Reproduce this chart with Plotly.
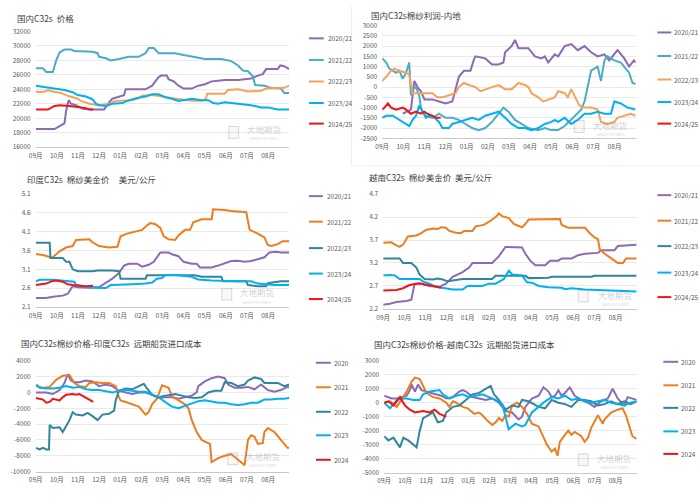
import plotly.graph_objects as go

W, H = 700, 503
FONT = "Noto Sans CJK SC"

MONTHS = ["09月", "10月", "11月", "12月", "01月", "02月", "03月", "04月", "05月", "06月", "07月", "08月"]
SEASONS = ["2020/21", "2021/22", "2022/23", "2023/24", "2024/25"]
YEARS = ["2020", "2021", "2022", "2023", "2024"]

# ---------------- Panel 1: 国内C32s 价格 (month index, value) ----------------
p1_2020 = [(0, 18500), (0.89, 18500), (1.13, 18900), (1.36, 19300), (1.44, 21000), (1.56, 22500), (1.67, 22000),
           (1.91, 21800), (2.22, 21300), (2.69, 21200), (3.24, 21200), (3.47, 22200), (3.63, 22700), (3.94, 23000),
           (4.18, 23200), (4.26, 24000), (4.88, 24000), (5.2, 24000), (5.51, 24500), (5.82, 25700), (5.95, 25900),
           (6.21, 25900), (6.29, 25400), (6.53, 25100), (6.76, 24500), (7.0, 24100), (7.39, 24100), (7.7, 24500),
           (8.01, 24700), (8.33, 25100), (8.64, 25200), (8.95, 25300), (9.58, 25300), (10.2, 25500), (10.52, 25900),
           (10.75, 26100), (10.91, 26800), (11.46, 26800), (11.58, 27300), (11.77, 27200), (12, 26800)]
p1_2021 = [(0, 26900), (0.34, 26900), (0.5, 26400), (0.81, 26400), (0.97, 28000), (1.13, 29100), (1.36, 29500),
           (1.67, 29500), (1.83, 29300), (2.69, 29200), (2.93, 29000), (3.0, 28500), (3.32, 28300), (3.55, 28000),
           (3.94, 28200), (4.26, 28400), (4.41, 28500), (4.88, 28500), (5.2, 29000), (5.35, 29700), (5.59, 29700),
           (5.82, 29000), (6.6, 29000), (7.07, 28700), (7.39, 28500), (8.01, 28200), (8.79, 28200), (9.26, 27900),
           (9.58, 27300), (9.81, 26600), (10.05, 26500), (10.28, 25800), (10.39, 24600), (10.83, 24500),
           (11.14, 24200), (11.61, 24100), (11.77, 23500), (12, 23500)]
p1_2022 = [(0, 23700), (0.19, 23600), (0.42, 23700), (0.58, 23900), (0.81, 23700), (1.2, 23500), (1.52, 23100),
           (1.75, 22900), (1.99, 22700), (2.14, 22400), (2.54, 22000), (3.0, 21800), (3.47, 22000), (3.79, 22400),
           (4.57, 22500), (4.88, 22800), (5.04, 23100), (5.51, 23200), (5.98, 23000), (6.45, 22800), (6.92, 22700),
           (7.39, 22400), (7.86, 22400), (8.06, 22700), (8.12, 23400), (8.95, 23400), (9.1, 23900), (9.58, 24000),
           (10.05, 23700), (10.67, 23800), (10.91, 24100), (11.46, 24200), (11.77, 24200), (12, 24500)]
p1_2023 = [(0, 24500), (0.5, 24300), (0.97, 24100), (1.36, 23900), (1.75, 23600), (1.99, 23200), (2.38, 23000),
           (2.69, 22600), (2.85, 22000), (3.0, 21800), (3.32, 21700), (3.63, 22000), (4.1, 22100), (4.33, 22400),
           (4.8, 22800), (5.2, 23000), (5.51, 23300), (5.82, 23300), (6.13, 22900), (6.45, 22700), (6.76, 22400),
           (7.07, 22600), (7.39, 22700), (7.86, 22500), (8.17, 22500), (8.4, 22100), (8.64, 22000), (8.95, 22200),
           (9.26, 22100), (9.58, 21900), (10.2, 21800), (10.67, 21500), (10.99, 21500), (11.46, 21200), (12, 21200)]
p1_2024 = [(0, 21200), (0.19, 21200), (0.34, 21100), (0.58, 21200), (0.89, 21700), (1.13, 21800), (1.6, 21700),
           (2.07, 21500), (2.38, 21400), (2.54, 21200), (2.72, 21200)]

# ---------------- Panel 2: 国内C32s棉纱利润-内地 ----------------
p2_2020 = [(0.97, -1300), (1.2, -1200), (1.36, -1100), (1.44, -400), (1.52, 300), (1.67, 0), (1.83, -200),
           (2.0, -600), (2.38, -600), (2.69, -700), (3.0, -800), (3.32, -700), (3.4, -400), (3.63, 500), (3.87, 800),
           (4.18, 800), (4.33, 1300), (4.41, 1500), (4.88, 1400), (5.2, 1100), (5.51, 1100), (5.74, 1200),
           (5.82, 1700), (6.13, 2000), (6.29, 2300), (6.45, 1900), (6.92, 1900), (7.23, 1500), (7.54, 1400),
           (7.7, 1500), (7.86, 1200), (8.17, 1600), (8.33, 1500), (8.64, 2000), (8.95, 2100), (9.26, 1800),
           (9.58, 2000), (9.89, 1700), (10.2, 1500), (10.52, 1600), (10.75, 1300), (11.14, 1800), (11.46, 1400),
           (11.69, 1000), (11.92, 1300), (12, 1200)]
p2_2021 = [(0, 1400), (0.19, 1200), (0.34, 900), (0.5, 800), (0.66, 700), (0.81, 800), (0.97, 400), (1.13, 700),
           (1.28, 1200), (1.36, -400), (1.44, -100), (1.6, 0), (1.75, -400), (1.83, -1000), (1.91, -1200),
           (2.07, -1400), (2.38, -1500), (2.69, -1300), (3.0, -1500), (3.32, -1500), (3.63, -1600), (3.94, -1800),
           (4.26, -2000), (4.57, -2100), (4.88, -2000), (5.2, -1700), (5.51, -1300), (5.74, -1000), (5.98, -1200),
           (6.29, -1600), (6.6, -1800), (6.92, -2000), (7.39, -2100), (7.7, -2000), (8.01, -2100), (8.33, -2100),
           (8.64, -1900), (8.95, -1600), (9.26, -1300), (9.42, -1100), (9.58, -700), (9.73, 0), (9.89, 800),
           (10.2, 1000), (10.36, 300), (10.52, 1300), (10.67, 1500), (10.99, 1300), (11.3, 1200), (11.53, 900),
           (11.69, 700), (11.85, 200), (12, 150)]
p2_2022 = [(0, 300), (0.19, 500), (0.42, 800), (0.58, 900), (0.81, 800), (1.13, 700), (1.28, 600), (1.44, -300),
           (1.75, -300), (2.07, -300), (2.38, -300), (2.61, -500), (2.85, -500), (3.16, -400), (3.47, -300),
           (3.63, 0), (3.87, 200), (4.1, 100), (4.41, 0), (4.65, -200), (4.88, -100), (5.2, 0), (5.51, 100),
           (5.82, -100), (6.13, -100), (6.45, 200), (6.76, 100), (6.92, 0), (7.07, -300), (7.39, -500), (7.62, -700),
           (7.86, -600), (8.17, -500), (8.33, -200), (8.64, -300), (8.79, -500), (8.95, -100), (9.19, -600),
           (9.34, -900), (9.58, -1000), (9.89, -1000), (10.2, -1100), (10.36, -1700), (10.67, -1800), (10.99, -1700),
           (11.14, -1500), (11.46, -1400), (11.77, -1300), (12, -1400)]
p2_2023 = [(0, -1500), (0.19, -1400), (0.5, -1400), (0.81, -1600), (1.13, -1800), (1.28, -1900), (1.44, -1600),
           (1.6, -1400), (1.75, -900), (1.91, -1200), (2.07, -1500), (2.22, -1400), (2.38, -1400), (2.69, -1700),
           (2.85, -2000), (3.16, -2000), (3.32, -1800), (3.63, -1700), (3.94, -1600), (4.26, -1500), (4.57, -1600),
           (4.88, -1400), (5.2, -1300), (5.51, -1200), (5.82, -1500), (6.13, -1800), (6.45, -2000), (6.76, -2000),
           (7.07, -2100), (7.39, -2000), (7.7, -1800), (8.01, -1700), (8.17, -1600), (8.33, -1700), (8.64, -1500),
           (8.95, -1800), (9.26, -1600), (9.58, -1300), (9.89, -1300), (10.2, -1200), (10.52, -1300), (10.83, -1300),
           (10.99, -700), (11.3, -800), (11.61, -1000), (11.92, -1100), (12, -1100)]
p2_2024 = [(0, -1100), (0.11, -1000), (0.27, -800), (0.42, -1000), (0.66, -1100), (0.97, -1000), (1.13, -1100),
           (1.36, -1300), (1.6, -1200), (1.83, -1300), (1.99, -1200), (2.14, -1300), (2.38, -1400), (2.54, -1500),
           (2.77, -1500)]

# ---------------- Panel 3: 印度C32s 棉纱美金价 ----------------
p3_2020 = [(0, 2.34), (0.5, 2.34), (0.81, 2.37), (1.28, 2.40), (1.52, 2.45), (1.75, 2.65), (1.99, 2.62), (2.54, 2.61),
           (3.0, 2.63), (3.32, 2.75), (3.63, 2.85), (3.94, 3.0), (4.18, 3.2), (4.41, 3.25), (4.8, 3.25), (5.04, 3.17),
           (5.35, 3.22), (5.59, 3.3), (5.9, 3.55), (6.29, 3.55), (6.45, 3.5), (6.76, 3.45), (7.0, 3.3), (7.39, 3.25),
           (7.62, 3.25), (7.78, 3.15), (8.33, 3.15), (8.64, 3.2), (8.95, 3.25), (9.26, 3.32), (9.58, 3.33),
           (9.89, 3.3), (10.2, 3.32), (10.52, 3.38), (10.83, 3.42), (11.06, 3.55), (11.38, 3.57), (11.61, 3.55),
           (12, 3.55)]
p3_2021 = [(0, 3.51), (0.34, 3.48), (0.66, 3.43), (0.81, 3.42), (1.13, 3.58), (1.44, 3.68), (1.75, 3.72), (1.91, 3.88),
           (2.54, 3.90), (2.69, 3.82), (3.0, 3.72), (3.47, 3.68), (3.87, 3.7), (4.02, 3.98), (4.33, 4.05), (4.65, 4.1),
           (5.04, 4.15), (5.27, 4.27), (5.43, 4.33), (5.67, 4.3), (5.9, 4.2), (6.06, 3.98), (6.29, 3.9), (6.6, 3.88),
           (6.76, 4.0), (7.07, 4.15), (7.31, 4.15), (7.46, 4.35), (7.7, 4.4), (7.86, 4.43), (8.33, 4.43), (8.4, 4.7),
           (8.95, 4.68), (9.26, 4.65), (9.97, 4.62), (10.13, 4.15), (10.52, 4.05), (10.83, 3.95), (10.99, 3.75),
           (11.14, 3.72), (11.46, 3.77), (11.69, 3.85), (12, 3.85)]
p3_2022 = [(0, 3.81), (0.66, 3.81), (0.70, 3.4), (1.28, 3.4), (1.44, 3.3), (1.6, 3.3), (1.75, 3.1), (1.99, 3.05),
           (2.69, 3.05), (2.93, 3.07), (3.63, 3.07), (3.94, 3.05), (4.02, 2.85), (5.2, 2.85), (5.27, 2.94), (7.54, 2.94),
           (7.86, 2.9), (8.79, 2.9), (8.87, 2.78), (9.97, 2.78), (10.05, 2.68), (10.52, 2.65), (10.91, 2.65),
           (10.99, 2.73), (11.61, 2.78), (12, 2.78)]
p3_2023 = [(0, 2.78), (0.19, 2.82), (0.81, 2.82), (1.44, 2.78), (1.83, 2.77), (1.91, 2.68), (2.38, 2.63), (3.0, 2.6),
           (3.32, 2.6), (3.55, 2.68), (4.1, 2.68), (4.57, 2.7), (5.2, 2.72), (5.51, 2.75), (5.74, 2.85), (5.98, 2.87),
           (6.13, 2.95), (6.6, 2.95), (7.07, 2.92), (7.39, 2.9), (7.7, 2.83), (8.33, 2.8), (9.58, 2.78), (10.2, 2.78),
           (10.52, 2.72), (10.99, 2.7), (11.3, 2.68), (12, 2.68)]
p3_2024 = [(0, 2.68), (0.19, 2.69), (0.5, 2.72), (0.74, 2.78), (0.97, 2.8), (1.28, 2.77), (1.52, 2.7), (1.75, 2.68),
           (2.07, 2.66), (2.38, 2.65), (2.72, 2.66)]

# ---------------- Panel 4: 越南C32s 棉纱美金价 ----------------
p4_2020 = [(0, 2.29), (0.31, 2.31), (0.63, 2.35), (1.1, 2.37), (1.33, 2.4), (1.38, 2.5), (1.49, 2.75), (1.72, 2.75),
           (2.19, 2.7), (2.66, 2.68), (2.97, 2.75), (3.29, 2.9), (3.76, 3.0), (4.07, 3.1), (4.23, 3.2), (4.54, 3.2),
           (5.16, 3.2), (5.48, 3.35), (5.79, 3.55), (6.57, 3.54), (6.73, 3.4), (6.96, 3.25), (7.2, 3.15), (7.67, 3.15),
           (7.9, 3.25), (8.29, 3.25), (8.45, 3.3), (8.92, 3.3), (9.23, 3.37), (9.55, 3.4), (10.17, 3.42),
           (10.33, 3.48), (10.95, 3.48), (11.11, 3.57), (11.42, 3.58), (11.58, 3.6), (12, 3.6)]
p4_2021 = [(0, 3.64), (0.39, 3.65), (0.55, 3.6), (0.78, 3.55), (0.94, 3.6), (1.17, 3.78), (1.57, 3.8), (1.8, 3.85),
           (2.03, 3.92), (2.35, 3.95), (2.58, 3.94), (2.74, 3.98), (2.97, 3.97), (3.13, 3.9), (3.44, 3.86),
           (3.68, 3.85), (3.83, 3.9), (4.23, 3.9), (4.38, 4.0), (4.77, 4.03), (5.01, 4.1), (5.32, 4.2), (5.48, 4.28),
           (5.63, 4.22), (5.95, 4.18), (6.18, 4.05), (6.57, 3.98), (6.73, 4.05), (6.89, 4.15), (7.82, 4.16),
           (8.37, 4.16), (8.45, 4.03), (8.76, 3.97), (9.55, 3.97), (9.78, 3.85), (10.02, 3.75), (10.17, 3.72),
           (10.25, 3.5), (10.49, 3.4), (10.8, 3.3), (11.11, 3.2), (11.35, 3.2), (11.5, 3.3), (12, 3.3)]
p4_2022 = [(0, 3.3), (0.78, 3.3), (0.94, 3.2), (1.33, 3.2), (1.57, 3.1), (1.72, 2.95), (1.96, 2.85), (2.35, 2.84),
           (2.58, 2.86), (2.82, 2.84), (3.05, 2.8), (3.6, 2.83), (3.76, 2.85), (5.16, 2.85), (5.32, 2.92), (6.73, 2.92),
           (6.89, 2.87), (7.82, 2.88), (7.98, 2.9), (9.86, 2.9), (10.02, 2.92), (12, 2.92)]
p4_2023 = [(0, 2.93), (0.31, 2.94), (0.55, 2.93), (0.78, 2.85), (1.1, 2.85), (1.72, 2.85), (1.88, 2.8), (2.19, 2.75),
           (2.5, 2.68), (2.97, 2.64), (3.29, 2.62), (3.76, 2.62), (3.99, 2.7), (4.69, 2.7), (5.01, 2.75), (5.32, 2.75),
           (5.71, 2.85), (5.95, 3.03), (6.1, 2.95), (6.57, 2.93), (6.81, 2.78), (7.04, 2.77), (7.36, 2.7),
           (7.82, 2.67), (8.45, 2.66), (8.61, 2.63), (8.92, 2.65), (9.55, 2.62), (10.49, 2.6), (11.11, 2.6),
           (11.58, 2.58), (12, 2.58)]
p4_2024 = [(0, 2.6), (0.31, 2.6), (0.63, 2.61), (0.94, 2.65), (1.25, 2.72), (1.72, 2.76), (2.03, 2.73), (2.35, 2.7),
           (2.74, 2.66)]

# ---------------- Panel 5: 国内C32s棉纱价格-印度C32s 远期船货进口成本 ----------------
p5_2020 = [(0, 0), (0.5, 0), (0.81, -200), (1.13, 300), (1.36, 1200), (1.52, 2300), (1.67, 1500), (1.83, 1300),
           (2.07, 1300), (2.38, 1500), (2.69, 1400), (3.0, 800), (3.32, 1000), (3.63, 800), (3.94, 200), (4.26, 0),
           (4.57, -200), (4.88, 0), (5.2, 0), (5.51, -300), (5.82, -700), (6.13, -600), (6.45, -600), (6.76, -800),
           (7.07, -600), (7.39, -400), (7.62, 0), (7.7, 800), (8.01, 1400), (8.33, 1800), (8.64, 2000), (8.95, 1800),
           (9.11, 1000), (9.42, 600), (9.73, 600), (10.05, 700), (10.36, 400), (10.67, 1000), (10.99, 300),
           (11.3, 100), (11.61, 300), (11.92, 700), (12, 600)]
p5_2021 = [(0, 800), (0.34, 600), (0.66, 700), (0.97, 1600), (1.28, 2100), (1.6, 2200), (1.83, 1200), (2.07, 800),
           (2.38, 700), (2.54, 1200), (2.85, 1300), (3.16, 1200), (3.47, 1200), (3.79, 800), (3.94, -600),
           (4.02, -1000), (4.26, -1200), (4.57, -1500), (4.88, -1800), (5.2, -2800), (5.35, -2500), (5.51, -1500),
           (5.74, -800), (5.98, 900), (6.29, 600), (6.45, -500), (6.76, -1000), (7.07, -1500), (7.23, -2000),
           (7.39, -3500), (7.62, -5000), (7.86, -6000), (8.09, -6300), (8.25, -6500), (8.33, -8800), (8.64, -8300),
           (8.95, -8000), (9.26, -7800), (9.58, -8500), (9.89, -9200), (10.05, -6000), (10.2, -5400),
           (10.36, -5600), (10.52, -6500), (10.75, -6400), (10.83, -5000), (10.99, -4500), (11.3, -5000),
           (11.61, -6000), (11.92, -7000), (12, -7000)]
p5_2022 = [(0, -7000), (0.19, -7200), (0.34, -7000), (0.5, -7200), (0.63, -7200), (0.66, -4100), (0.81, -4500),
           (1.13, -4400), (1.28, -5000), (1.44, -4200), (1.6, -3500), (1.75, -2500), (1.91, -2800), (2.22, -2900),
           (2.46, -2600), (2.69, -3000), (2.93, -3500), (3.16, -2800), (3.47, -2700), (3.71, -2300), (3.79, -1000),
           (3.94, 200), (4.26, 500), (4.57, 400), (4.88, 800), (5.12, 1100), (5.27, 500), (5.51, -300), (5.82, -600),
           (6.13, -400), (6.45, -300), (6.6, -200), (6.92, -400), (7.23, -600), (7.54, -700), (7.86, -600),
           (8.17, 0), (8.48, 200), (8.79, 200), (8.95, 1300), (9.26, 1200), (9.58, 800), (9.89, 1000), (10.05, 1500),
           (10.36, 1900), (10.67, 1700), (10.83, 1200), (11.14, 1200), (11.46, 1200), (11.77, 800), (12, 1000)]
p5_2023 = [(0.03, 1000), (0.19, 600), (0.5, 500), (0.81, 500), (1.13, 600), (1.44, 800), (1.75, 600), (2.07, 700),
           (2.38, 400), (2.69, 300), (3.0, 300), (3.32, 100), (3.63, 0), (3.94, 200), (4.26, 300), (4.57, 200),
           (4.88, 100), (5.2, 100), (5.51, -300), (5.82, -600), (6.13, -1200), (6.45, -1800), (6.76, -2000),
           (7.07, -1700), (7.39, -1300), (7.7, -1100), (8.01, -1000), (8.33, -1200), (8.64, -1300), (8.95, -1300),
           (9.26, -1500), (9.58, -1600), (9.89, -1500), (10.2, -1300), (10.52, -1300), (10.83, -900), (11.14, -900),
           (11.46, -800), (11.77, -800), (12, -700)]
p5_2024 = [(0, -700), (0.19, -800), (0.34, -900), (0.5, -1300), (0.66, -1200), (0.81, -800), (1.13, -1000),
           (1.28, -600), (1.44, -300), (1.75, -200), (1.91, -300), (2.07, -200), (2.3, -500), (2.54, -900),
           (2.72, -1200)]

# ---------------- Panel 6: 国内C32s棉纱价格-越南C32s 远期船货进口成本 ----------------
p6_2020 = [(0, 500), (0.2, 400), (0.36, 300), (0.6, 300), (0.83, 400), (1.07, 500), (1.22, 900), (1.3, 1300),
           (1.46, 800), (1.61, 1300), (1.77, 900), (2.01, 800), (2.24, 700), (2.48, 600), (2.71, 500), (2.95, 300),
           (3.26, 400), (3.57, 800), (3.73, 900), (3.89, 800), (4.04, 600), (4.2, 400), (4.51, 300), (4.83, 200),
           (5.14, 300), (5.45, 0), (5.77, -600), (6.08, -700), (6.39, -1200), (6.55, -1000), (6.71, -300),
           (7.02, 300), (7.34, 500), (7.57, 1100), (7.81, 800), (7.96, 400), (8.12, 500), (8.28, 900), (8.43, 500),
           (8.59, 700), (8.82, 1100), (9.06, 500), (9.37, 200), (9.69, 0), (10.0, -300), (10.31, 100), (10.63, 300),
           (10.86, 1000), (11.1, 300), (11.41, -200), (11.57, 400), (11.8, 300), (12, 200)]
p6_2021 = [(0, 0), (0.28, 100), (0.6, -300), (0.83, 200), (1.07, 800), (1.3, 1500), (1.46, 1800), (1.69, 1700),
           (1.85, 1200), (2.01, 700), (2.32, 400), (2.63, 300), (2.95, 0), (3.1, -300), (3.26, 100), (3.42, 0),
           (3.73, -300), (3.97, -400), (4.28, -800), (4.51, -700), (4.67, -900), (4.91, -1300), (5.14, -1600),
           (5.3, -1400), (5.45, -1100), (5.61, -1300), (5.77, -900), (5.92, -1000), (6.08, -200), (6.32, 0),
           (6.55, -300), (6.79, -800), (7.02, -1500), (7.34, -1700), (7.49, -2200), (7.73, -3000), (7.96, -3500),
           (8.12, -3300), (8.24, -3800), (8.35, -2800), (8.59, -2300), (8.75, -2000), (8.9, -2300), (9.06, -2100),
           (9.37, -2400), (9.53, -2800), (9.69, -2500), (9.84, -1800), (10.16, -900), (10.39, -1500),
           (10.47, -1200), (10.78, -700), (11.1, -500), (11.33, -400), (11.49, -900), (11.65, -1600),
           (11.8, -2400), (12, -2600)]
p6_2022 = [(0, -2400), (0.2, -2700), (0.44, -2500), (0.75, -3200), (0.91, -2500), (1.14, -2700), (1.38, -3000),
           (1.54, -3200), (1.69, -2000), (1.85, -1100), (2.09, -900), (2.32, -700), (2.55, -1400), (2.79, -1300),
           (2.95, -700), (3.26, -300), (3.57, -200), (3.89, 200), (4.2, 600), (4.51, 700), (4.83, 1000),
           (5.06, 1200), (5.22, 600), (5.45, 200), (5.77, -500), (6.08, -200), (6.39, -300), (6.55, 200),
           (6.86, 100), (7.34, -300), (7.65, -400), (7.96, 200), (8.28, 0), (8.59, -100), (8.9, -300), (9.22, 200),
           (9.53, 200), (9.84, 100), (10.16, -200), (10.47, -100), (10.78, 100), (11.1, -100), (11.41, 100),
           (11.72, -100), (12, 100)]
p6_2023 = [(0, 0), (0.28, -400), (0.6, 200), (0.83, 300), (1.07, 300), (1.38, 200), (1.69, 200), (1.85, 600),
           (2.16, 800), (2.48, 900), (2.63, 900), (2.79, 600), (3.1, 300), (3.42, 500), (3.73, 600), (4.04, 400),
           (4.36, 500), (4.67, 600), (4.98, 400), (5.3, 200), (5.61, -100), (5.92, -1900), (6.24, -1500),
           (6.55, -1700), (6.71, -1600), (7.02, -700), (7.34, -300), (7.65, 100), (7.96, 400), (8.28, 300),
           (8.59, 500), (8.9, 200), (9.22, 300), (9.53, 100), (9.84, 0), (10.16, 100), (10.47, 200), (10.78, 0),
           (11.1, -100), (11.41, -200), (11.72, 0), (12, 100)]
p6_2024 = [(0, 0), (0.2, 100), (0.44, -200), (0.75, 400), (0.99, -200), (1.22, -500), (1.46, -700), (1.85, -600),
           (2.16, -700), (2.4, -500), (2.63, -800), (2.79, -900), (2.95, -1000)]

# tick values
p1_ticks = [16000, 18000, 20000, 22000, 24000, 26000, 28000, 30000, 32000]
p2_ticks = [-2500, -2000, -1500, -1000, -500, 0, 500, 1000, 1500, 2000, 2500, 3000]
p3_ticks = [2.1, 2.6, 3.1, 3.6, 4.1, 4.6, 5.1]
p4_ticks = [2.2, 2.7, 3.2, 3.7, 4.2, 4.7]
p5_ticks = [-10000, -8000, -6000, -4000, -2000, 0, 2000, 4000]
p6_ticks = [-5000, -4000, -3000, -2000, -1000, 0, 1000, 2000, 3000]

# colours
PURPLE = "#8B6BB1"
TEAL_L = "#4BACC6"
ORANGE_L = "#F7A25A"
CYAN = "#00B0F0"
RED = "#F01414"
ORANGE = "#ED7D1F"
TEAL_D = "#31859C"
COLS_A = [PURPLE, TEAL_L, ORANGE_L, CYAN, RED]
COLS_B = [PURPLE, ORANGE, TEAL_D, CYAN, RED]


def X(p):
    return p / W


def Y(p):
    return 1 - p / H


panels = [
    dict(title="国内C32s  价格", t=(8, 12), data=[p1_2020, p1_2021, p1_2022, p1_2023, p1_2024], cols=COLS_A,
         names=SEASONS, xd=(29, 285), yd=(26, 144), ticks=p1_ticks,
         leg=(305, 320, 322, [33, 55, 77, 99, 120]), wm=(224, 123, 260, 126)),
    dict(title="国内C32s棉纱利润-内地", t=(366, 9), data=[p2_2020, p2_2021, p2_2022, p2_2023, p2_2024], cols=COLS_A,
         names=SEASONS, xd=(379, 635), yd=(20, 135), ticks=p2_ticks,
         leg=(657, 671, 672, [27, 51, 75, 98, 120]), wm=(573, 117, 610, 122)),
    dict(title="印度C32s  棉纱美金价     美元/公斤", t=(18, 177), data=[p3_2020, p3_2021, p3_2022, p3_2023, p3_2024],
         cols=COLS_B, names=SEASONS, xd=(29, 285), yd=(192, 307), ticks=p3_ticks,
         leg=(305, 319, 321, [194, 220, 247, 273, 299]), wm=(217, 288, 253, 293)),
    dict(title="越南C32s  棉纱美金价  美元/公斤", t=(364, 174), data=[p4_2020, p4_2021, p4_2022, p4_2023, p4_2024],
         cols=COLS_B, names=SEASONS, xd=(380, 636), yd=(192, 309), ticks=p4_ticks,
         leg=(657, 671, 672, [193, 219, 245, 272, 297]), wm=(577, 290, 615, 296)),
    dict(title="国内C32s棉纱价格-印度C32s  远期船货进口成本", t=(12, 344),
         data=[p5_2020, p5_2021, p5_2022, p5_2023, p5_2024], cols=COLS_B, names=YEARS, xd=(29, 285), yd=(362, 475),
         ticks=p5_ticks, leg=(312, 327, 328, [364, 389, 414, 438, 463]), wm=(223, 456, 259, 460)),
    dict(title="国内C32s棉纱价格-越南C32s  远期船货进口成本", t=(369, 345),
         data=[p6_2020, p6_2021, p6_2022, p6_2023, p6_2024], cols=COLS_B, names=YEARS, xd=(381, 636), yd=(362, 476),
         ticks=p6_ticks, leg=(663, 678, 679, [363, 387, 410, 434, 457]), wm=(577, 457, 614, 462)),
]

fig = go.Figure()
layout = dict(width=W, height=H, margin=dict(l=0, r=0, t=0, b=0), paper_bgcolor="white", plot_bgcolor="white",
              showlegend=False, font=dict(family=FONT, color="#595959", size=7))
shapes, annots = [], []

for i, p in enumerate(panels, start=1):
    xa, ya = f"x{i}", f"y{i}"
    for series, col in zip(p["data"], p["cols"]):
        fig.add_trace(go.Scatter(x=[a for a, b in series], y=[b for a, b in series], mode="lines",
                                 line=dict(color=col, width=2), xaxis=xa, yaxis=ya, hoverinfo="skip"))
    ticks = p["ticks"]
    layout[f"xaxis{i}"] = dict(domain=[X(p["xd"][0]), X(p["xd"][1])], anchor=ya, range=[0, 12],
                               tickvals=list(range(12)), ticktext=MONTHS, showgrid=False, zeroline=False,
                               showline=True, linecolor="#c8c8c8", linewidth=1, ticks="",
                               tickfont=dict(size=6.5, color="#595959"), ticklabelstandoff=2, fixedrange=True)
    layout[f"yaxis{i}"] = dict(domain=[Y(p["yd"][1]), Y(p["yd"][0])], anchor=xa, range=[ticks[0], ticks[-1]],
                               tickvals=ticks, ticktext=[f"{t:g}" for t in ticks],
                               showgrid=True, gridcolor="#e3e3e3", gridwidth=0.8, zeroline=False, showline=False,
                               ticks="", tickfont=dict(size=6.5, color="#595959"), ticklabelstandoff=4,
                               fixedrange=True)
    # title
    annots.append(dict(x=X(p["t"][0]), y=Y(p["t"][1]), xref="paper", yref="paper", xanchor="left",
                       yanchor="middle", text=p["title"], showarrow=False,
                       font=dict(size=8.5, color="#404040", family=FONT)))
    # legend
    lx0, lx1, ltx, lys = p["leg"]
    for name, col, ly in zip(p["names"], p["cols"], lys):
        shapes.append(dict(type="line", xref="paper", yref="paper", x0=X(lx0), x1=X(lx1), y0=Y(ly), y1=Y(ly),
                           line=dict(color=col, width=2)))
        annots.append(dict(x=X(ltx), y=Y(ly), xref="paper", yref="paper", xanchor="left", yanchor="middle",
                           text=name, showarrow=False, font=dict(size=6.5, color="#595959", family=FONT)))
    # watermark
    wx, wy, tcx, tcy = p["wm"]
    shapes.append(dict(type="rect", xref="paper", yref="paper", x0=X(wx), x1=X(wx + 10), y0=Y(wy + 12), y1=Y(wy),
                       line=dict(color="rgba(120,150,200,0.35)", width=1), fillcolor="rgba(240,200,120,0.12)"))
    annots.append(dict(x=X(tcx), y=Y(tcy - 1), xref="paper", yref="paper", xanchor="center", yanchor="middle",
                       text="大地期货", showarrow=False,
                       font=dict(size=8.5, color="rgba(130,130,145,0.4)", family=FONT)))
    annots.append(dict(x=X(tcx), y=Y(tcy + 8.5), xref="paper", yref="paper", xanchor="center", yanchor="middle",
                       text="DADI FUTURES", showarrow=False,
                       font=dict(size=4, color="rgba(130,130,145,0.4)", family=FONT)))

# faint panel borders as in the collage
shapes.append(dict(type="line", xref="paper", yref="paper", x0=X(348), x1=X(348), y0=Y(163), y1=Y(0),
                   line=dict(color="#efefef", width=1)))
shapes.append(dict(type="line", xref="paper", yref="paper", x0=X(348), x1=X(700), y0=Y(163), y1=Y(163),
                   line=dict(color="#efefef", width=1)))

layout["shapes"] = shapes
layout["annotations"] = annots
fig.update_layout(**layout)
fig.write_html("out.html", config={"displayModeBar": False, "staticPlot": True},
               post_script="document.body.style.margin='0px';document.body.style.padding='0px';"
                           "document.body.style.overflow='hidden';")
